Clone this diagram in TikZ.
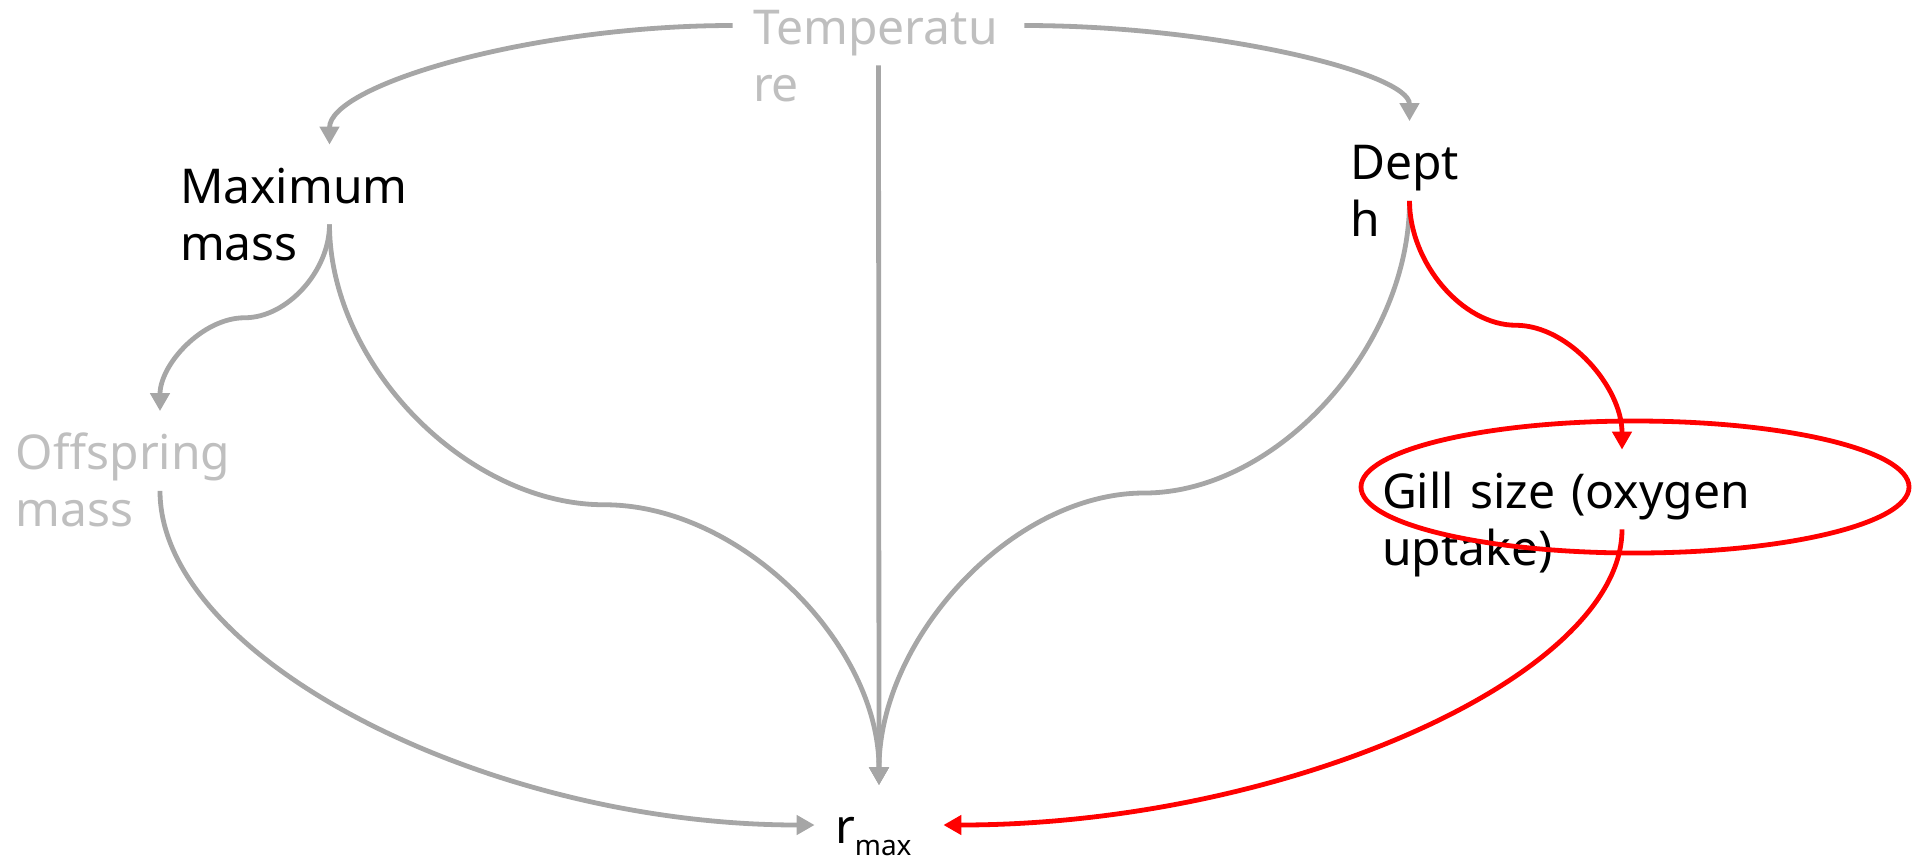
\documentclass[tikz,border=0pt]{standalone}
\usepackage{fontspec}
\setmainfont{Noto Sans}
\usetikzlibrary{arrows.meta,calc}

\definecolor{arrowgrey}{RGB}{166,166,166}
\definecolor{textgrey}{RGB}{191,191,191}
\definecolor{pptred}{RGB}{255,0,0}

\tikzset{
  txtbox/.style={inner xsep=10pt, inner ysep=0pt, text height=29pt, text depth=10.5pt,
    align=left, font=\fontsize{24}{28.5}\selectfont},
  link/.style={draw=arrowgrey, line width=2.4pt, -{Triangle[length=9pt,width=9.5pt]}},
  redlink/.style={link, draw=pptred},
  % horizontal out, vertical in
  elbowhv/.style={to path={let \p1=(\tikztostart), \p2=(\tikztotarget) in
    .. controls ({(\x1+\x2)/2},\y1) and (\x2,{(\y1+\y2)/2}) .. (\p2) \tikztonodes}},
  % vertical out, horizontal in
  elbowvh/.style={to path={let \p1=(\tikztostart), \p2=(\tikztotarget) in
    .. controls (\x1,{(\y1+\y2)/2}) and ({(\x1+\x2)/2},\y2) .. (\p2) \tikztonodes}},
  % vertical out, horizontal in the middle, vertical in
  scurve/.style={to path={let \p1=(\tikztostart), \p2=(\tikztotarget), \p3=($(\p1)!.5!(\p2)$) in
    .. controls (\x1,{(\y1+\y3)/2}) and ({(3*\x1+\x2)/4},\y3) .. (\p3)
    .. controls ({(\x1+3*\x2)/4},\y3) and (\x2,{(\y3+\y2)/2}) .. (\p2) \tikztonodes}}
}

\begin{document}
\begin{tikzpicture}[x=0.5pt,y=0.5pt,yscale=-1,xscale=1]
\useasboundingbox (0,0) rectangle (1921,863);

% Text Node
\node[txtbox, text width=125.5pt, text=textgrey] (temp) at (878.5,25.5) {Temperatu\\re};
% Text Node
\node[txtbox, text width=149.5pt] (maxmass) at (329.5,184.5) {Maximum\\mass};
% Text Node
\node[txtbox, text width=144pt, text=textgrey] (offspring) at (160,451) {Offspring\\mass};
% Text Node
\node[txtbox, text width=59.5pt] (depth) at (1409.5,161) {Dept\\h};
% Text Node
\node[txtbox, text width=240pt] (gill) at (1622,489.5) {Gill size (oxygen\\uptake)};
% Text Node
\node[txtbox, text width=44pt] (rmax) at (879,825) {r\raisebox{-6pt}{\fontsize{14}{14}\selectfont max}};

%Shape: Ellipse
\draw[draw=pptred, line width=2.4pt] (1635,487) ellipse [x radius=274, y radius=66];

%Curve Lines
\draw[link] (temp.west) to[elbowhv] (maxmass.north);
\draw[link] (temp.east) to[elbowhv] (depth.north);
%Straight Lines
\draw[link] (temp.south) -- (rmax.north);
%Curve Lines
\draw[link] (maxmass.south) to[scurve] (offspring.north);
\draw[link] (maxmass.south) to[scurve] (rmax.north);
\draw[link] (depth.south) to[scurve] (rmax.north);
\draw[link] (offspring.south) to[elbowvh] (rmax.west);
\draw[redlink] (depth.south) to[scurve] (gill.north);
\draw[redlink] (gill.south) to[elbowvh] (rmax.east);
\end{tikzpicture}
\end{document}
